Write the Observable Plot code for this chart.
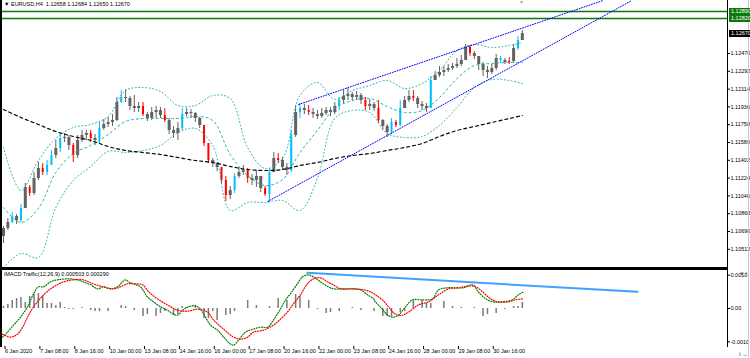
<!DOCTYPE html>
<html><head><meta charset="utf-8">
<script src="https://cdn.jsdelivr.net/npm/d3@7"></script>
<script src="https://cdn.jsdelivr.net/npm/@observablehq/plot@0.6"></script>
<style>
body{margin:0;background:#fff;}
#wrap{position:relative;width:750px;height:358px;overflow:hidden;background:#fff;font-family:"Liberation Sans",sans-serif;}
#wrap svg{position:absolute;left:0;}
.ln{position:absolute;background:#000;}
.tag{position:absolute;font-size:5.5px;line-height:7px;height:7px;color:#fff;padding-left:2px;width:21px;box-sizing:border-box;}
.txt{position:absolute;font-size:5.5px;line-height:7px;color:#000;white-space:pre;}
</style></head><body><div id="wrap"></div>
<script>
// ---------- data (EURUSD H4) ----------
const symbolTitle = "▼ EURUSD,H4  1.12658 1.12684 1.12650 1.12670";
const macdTitle = "iMACD Traffic(12,26,9) 0.000503 0.000290";
const firstOpen = 1.1064;
const closes = [1.1072,1.1078,1.1084,1.1080,1.1092,1.1113,1.1107,1.1122,1.1132,1.1128,
1.1135,1.1145,1.1152,1.1162,1.1163,1.1155,1.1145,1.1160,1.1165,1.1167,
1.1162,1.1160,1.1172,1.1176,1.1178,1.1180,1.1198,1.1203,1.1202,1.1194,
1.1192,1.1194,1.1186,1.1182,1.1188,1.1190,1.1185,1.1180,1.1170,1.1167,
1.1172,1.1186,1.1188,1.1187,1.1182,1.1175,1.1157,1.1140,1.1137,1.1133,
1.1120,1.1105,1.1110,1.1124,1.1128,1.1130,1.1122,1.1120,1.1124,1.1112,
1.1106,1.1128,1.1142,1.1140,1.1133,1.1130,1.1165,1.1188,1.1192,1.1190,
1.1188,1.1186,1.1184,1.1187,1.1190,1.1188,1.1194,1.1200,1.1204,1.1206,
1.1203,1.1205,1.1200,1.1194,1.1196,1.1192,1.1180,1.1174,1.1168,1.1178,
1.1175,1.1192,1.1200,1.1204,1.1202,1.1196,1.1194,1.1192,1.1220,1.1225,
1.1228,1.1230,1.1232,1.1234,1.1236,1.1240,1.1253,1.1247,1.1244,1.1236,
1.1230,1.1228,1.1232,1.1242,1.1240,1.1238,1.1239,1.1252,1.1260,1.1267];
const highs = [1.1074,1.1082,1.1088,1.1086,1.1096,1.1117,1.1115,1.1128,1.1138,1.1137,
1.1140,1.1150,1.1160,1.1167,1.1167,1.1165,1.1157,1.1165,1.1170,1.1170,
1.1170,1.1166,1.1178,1.1181,1.1183,1.1186,1.1203,1.1210,1.1211,1.1204,
1.1205,1.1198,1.1198,1.1188,1.1193,1.1194,1.1193,1.1192,1.1182,1.1174,
1.1178,1.1192,1.1192,1.1191,1.1188,1.1183,1.1175,1.1157,1.1142,1.1138,
1.1132,1.1124,1.1114,1.1127,1.1133,1.1135,1.1132,1.1126,1.1130,1.1124,
1.1114,1.1132,1.1148,1.1147,1.1143,1.1137,1.1170,1.1195,1.1197,1.1196,
1.1195,1.1192,1.1190,1.1192,1.1193,1.1193,1.1198,1.1203,1.1210,1.1212,
1.1208,1.1209,1.1207,1.1203,1.1201,1.1198,1.1200,1.1181,1.1176,1.1182,
1.1180,1.1200,1.1204,1.1210,1.1210,1.1204,1.1199,1.1197,1.1224,1.1229,
1.1234,1.1234,1.1236,1.1237,1.1242,1.1245,1.1256,1.1255,1.1249,1.1244,
1.1238,1.1234,1.1236,1.1246,1.1244,1.1242,1.1243,1.1256,1.1264,1.1270];
const lows = [1.1057,1.1070,1.1077,1.1076,1.1078,1.1100,1.1104,1.1105,1.1120,1.1125,
1.1125,1.1135,1.1142,1.1148,1.1158,1.1150,1.1138,1.1142,1.1158,1.1160,
1.1158,1.1155,1.1157,1.1170,1.1173,1.1174,1.1179,1.1197,1.1198,1.1190,
1.1188,1.1188,1.1184,1.1179,1.1180,1.1182,1.1182,1.1178,1.1166,1.1162,
1.1160,1.1170,1.1184,1.1182,1.1178,1.1172,1.1154,1.1137,1.1133,1.1129,
1.1116,1.1099,1.1101,1.1107,1.1122,1.1125,1.1117,1.1115,1.1113,1.1108,
1.1104,1.1098,1.1128,1.1137,1.1130,1.1125,1.1128,1.1163,1.1182,1.1186,
1.1185,1.1182,1.1181,1.1182,1.1185,1.1184,1.1186,1.1190,1.1197,1.1200,
1.1199,1.1200,1.1196,1.1190,1.1190,1.1189,1.1177,1.1170,1.1163,1.1166,
1.1173,1.1174,1.1194,1.1198,1.1199,1.1192,1.1190,1.1188,1.1192,1.1220,
1.1223,1.1224,1.1228,1.1230,1.1232,1.1234,1.1240,1.1244,1.1241,1.1230,
1.1224,1.1222,1.1226,1.1230,1.1237,1.1236,1.1236,1.1237,1.1250,1.1260];
// g = grey, b = blue (strong up), r = red (strong down)
const candleKinds = "ggbgbgrggrbbgbggrgggrgbggggbggggrggggrgggbggggrrggrrgbggrgggrbgrggbgbgrggggggbgggggrggrggbrbggrgggbggggggggrggggggbgrgbgg";

// indicator samples (every 4 bars)
const bandIdx = [0,4,8,12,16,20,24,28,32,36,40,44,48,52,56,60,64,68,72,76,80,84,88,92,96,100,104,108,112,116,119];
const bbUpper = [1.1153,1.1110,1.1140,1.1162,1.1173,1.1176,1.1184,1.1210,1.1213,1.1209,1.1195,1.1195,1.1205,1.1202,1.1153,1.1132,1.1142,1.1205,1.1218,1.1201,1.1210,1.1215,1.1220,1.1212,1.1217,1.1230,1.1250,1.1256,1.1253,1.1255,1.1258];
const bbMiddle = [1.1093,1.1078,1.1092,1.1128,1.1147,1.1155,1.1166,1.1179,1.1182,1.1182,1.1182,1.1184,1.1180,1.1146,1.1125,1.1115,1.1121,1.1148,1.1170,1.1192,1.1200,1.1202,1.1194,1.1188,1.1190,1.1203,1.1222,1.1235,1.1237,1.1238,1.1238];
const bbLower = [1.1033,1.1047,1.1043,1.1093,1.1120,1.1134,1.1149,1.1148,1.1150,1.1155,1.1168,1.1172,1.1155,1.1090,1.1098,1.1098,1.1100,1.1090,1.1122,1.1182,1.1190,1.1188,1.1167,1.1163,1.1164,1.1175,1.1193,1.1213,1.1221,1.1220,1.1217];
const slowMA = [1.1191,1.1183,1.1176,1.1169,1.1164,1.1160,1.1154,1.1150,1.1148,1.1146,1.1143,1.1140,1.1138,1.1134,1.1131,1.1130,1.1131,1.1135,1.1138,1.1142,1.1145,1.1147,1.1150,1.1153,1.1157,1.1164,1.1170,1.1174,1.1178,1.1182,1.1185];

// channel trendlines [barIndex, price]
const channelUpper = [[67.7, 1.1196], [137.5, 1.1300]];
const channelLower = [[60.6, 1.1099], [144.1, 1.1300]];
const levels = [1.1289, 1.1282];
const levelLabels = ["1.12890", "1.12820"];
const priceTicks = [1.12470,1.12292,1.12114,1.11936,1.11758,1.11580,1.11402,1.11224,1.11046,1.10868,1.10690,1.10512];

// MACD panel
const histogram = [0.00006,0.00012,0.00024,0.00030,0.00033,0.00018,0.00036,0.00042,0.00045,0.00036,
0.00015,0.00015,0.00009,0.00018,0.00003,-0.00003,-0.00003,0,0.00003,0,
-0.00006,-0.00009,-0.00009,0,-0.00009,0,0,0.00009,0.00006,0,
-0.00006,0,-0.00024,-0.00018,0,-0.00024,-0.00015,-0.00009,0,-0.00021,
-0.00018,0.00006,0.00003,0,0.00009,0,-0.00030,-0.00030,-0.00009,-0.00036,
0,-0.00021,-0.00018,-0.00009,0,0,0.00024,0,0.00009,0,
0,0.00006,0,0.00030,0,0.00024,0,0.00042,0.00036,0,
0.00024,0,-0.00003,0,-0.00015,-0.00012,0,-0.00009,0,0,
0.00003,0,-0.00006,0,0,-0.00009,0,-0.00024,-0.00024,-0.00024,
0,-0.00012,-0.00009,0,0.00024,0,0.00024,0.00015,0.00015,0,
0,0.00021,0,0.00006,0,0.00003,0,0,0.00003,0,
-0.00024,-0.00018,0,-0.00015,0,-0.00003,0,0.00006,0.00006,0.00018];
const macdIdx = [-0.2,0.9,2.3,3.9,5.5,6.9,8.0,9.2,10.8,12.4,14.7,17.0,18.3,20.0,21.6,22.9,24.5,26.1,28.0,28.7,29.8,31.4,33.0,34.4,36.0,37.6,39.0,39.9,41.1,42.4,44.0,45.2,46.3,47.5,49.1,50.5,52.1,52.8,53.9,55.5,57.3,58.9,60.6,61.9,63.5,64.7,65.8,67.4,68.6,69.7,71.1,72.7,74.5,75.7,78.0,80.3,81.9,83.5,84.9,85.3,86.9,88.1,89.4,90.6,92.2,93.8,96.1,98.4,99.8,101.8,103.7,105.5,107.6,108.9,110.6,112.2,114.4,116.7,118.1,119.3];
const macdMain = [-0.00086,-0.00071,-0.00050,-0.00026,0.00005,0.00044,0.00065,0.00065,0.00080,0.00086,0.00089,0.00086,0.00080,0.00071,0.00059,0.00065,0.00059,0.00065,0.00086,0.00080,0.00074,0.00065,0.00035,0.00020,0.00005,-0.00005,-0.00017,-0.00020,-0.00005,0.00005,0.00008,-0.00002,-0.00026,-0.00050,-0.00065,-0.00086,-0.00107,-0.00110,-0.00095,-0.00071,-0.00062,-0.00056,-0.00056,-0.00035,-0.00002,0.00026,0.00044,0.00074,0.00095,0.00101,0.00095,0.00080,0.00065,0.00059,0.00059,0.00059,0.00056,0.00041,0.00029,0.00020,-0.00002,-0.00020,-0.00026,-0.00020,0.00005,0.00026,0.00026,0.00029,0.00056,0.00062,0.00062,0.00062,0.00071,0.00050,0.00029,0.00020,0.00020,0.00026,0.00041,0.00050];
const signalIdx = [-0.2,1.6,3.2,4.4,5.5,6.9,9.2,11.5,13.8,16.1,18.3,20.6,22.9,25.2,26.8,28.4,29.8,31.9,33.3,35.3,37.6,39.9,42.2,44.5,46.8,48.2,50.5,52.8,54.4,56.0,57.3,59.6,61.9,63.5,65.1,66.5,68.1,69.7,71.1,72.7,74.3,75.7,77.3,80.3,82.6,84.2,85.3,86.9,88.3,89.9,91.5,92.9,95.2,97.5,99.8,102.1,104.4,106.7,108.3,109.9,111.7,113.5,115.8,117.4,119.0];
const macdSignal = [-0.00077,-0.00086,-0.00077,-0.00056,-0.00026,0.00005,0.00041,0.00065,0.00080,0.00086,0.00086,0.00074,0.00065,0.00059,0.00065,0.00074,0.00074,0.00071,0.00050,0.00029,0.00011,-0.00005,-0.00008,-0.00002,-0.00011,-0.00035,-0.00062,-0.00086,-0.00092,-0.00086,-0.00071,-0.00065,-0.00050,-0.00032,-0.00011,0.00014,0.00041,0.00074,0.00089,0.00092,0.00080,0.00071,0.00059,0.00059,0.00056,0.00050,0.00041,0.00026,0.00005,-0.00017,-0.00020,-0.00011,0.00011,0.00020,0.00041,0.00059,0.00062,0.00068,0.00065,0.00050,0.00029,0.00020,0.00020,0.00026,0.00029];
const macdTrend = [[69.7, 0.00107], [145.4, 0.00050]];
const macdTicks = [0.0010, 0, -0.0010];
const timeTickIdx = [0,8,16,24,32,40,48,56,64,72,80,88,96,104,112];
const timeLabels = ["6 Jan 2020","7 Jan 08:00","8 Jan 16:00","10 Jan 00:00","13 Jan 08:00","14 Jan 16:00","16 Jan 00:00","17 Jan 08:00","20 Jan 16:00","22 Jan 00:00","23 Jan 08:00","24 Jan 16:00","28 Jan 00:00","29 Jan 08:00","30 Jan 16:00"];

// ---------- build ----------
const kindColor = {g: "#626262", b: "#00bfff", r: "#ff0000"};
const candles = closes.map((c, i) => {
  const o = i === 0 ? firstOpen : closes[i - 1];
  return {i, o, c, h: Math.max(highs[i], o, c), l: Math.min(lows[i], o, c), col: kindColor[candleKinds[i]], w: candleKinds[i] === "g" ? 3 : 2};
});
const bands = bandIdx.map((i, k) => ({i, up: bbUpper[k], mid: bbMiddle[k], lo: bbLower[k], ma: slowMA[k]}));
const hist = histogram.map((v, i) => ({i, v}));
const mainLine = macdIdx.map((i, k) => ({i, v: macdMain[k]}));
const sigLine = signalIdx.map((i, k) => ({i, v: macdSignal[k]}));
const xDomain = [-0.69, 166.06];
const teal = "#20b2aa";
const baseStyle = {fontSize: "5.5px", fontFamily: "Liberation Sans, sans-serif", background: "transparent", overflow: "visible", color: "#000"};

const main = Plot.plot({
  width: 750, height: 268,
  marginTop: 0, marginBottom: 0, marginLeft: 0, marginRight: 23,
  x: {domain: xDomain, axis: null},
  y: {domain: [1.1032, 1.1300]},
  color: {type: "identity"},
  style: baseStyle,
  marks: [
    Plot.axisY({anchor: "right", ticks: priceTicks, tickFormat: d => d.toFixed(5), tickSize: 2, tickPadding: 1, stroke: "#000"}),
    Plot.ruleY(levels, {stroke: "#0a7a0a", strokeWidth: 1.5}),
    Plot.ruleX(candles, {x: "i", y1: "l", y2: "h", stroke: "col", strokeWidth: 1}),
    Plot.ruleX(candles, {x: "i", y1: "o", y2: d => d.o === d.c ? d.c + 0.00006 : d.c, stroke: "col", strokeWidth: "w"}),
    Plot.line(bands, {x: "i", y: "up", stroke: teal, strokeWidth: 1, strokeDasharray: "1,2.5", curve: "catmull-rom"}),
    Plot.line(bands, {x: "i", y: "mid", stroke: teal, strokeWidth: 1, strokeDasharray: "2,3", curve: "catmull-rom"}),
    Plot.line(bands, {x: "i", y: "lo", stroke: teal, strokeWidth: 1, strokeDasharray: "1,2.5", curve: "catmull-rom"}),
    Plot.line(bands, {x: "i", y: "ma", stroke: "#000", strokeWidth: 1.2, strokeDasharray: "3,3", curve: "catmull-rom"}),
    Plot.line(channelUpper, {x: d => d[0], y: d => d[1], stroke: "#0000ff", strokeWidth: 1, strokeDasharray: "1,1.6", clip: true}),
    Plot.line(channelLower, {x: d => d[0], y: d => d[1], stroke: "#0000ff", strokeWidth: 1, strokeDasharray: "1,1.6", clip: true})
  ]
});

const macd = Plot.plot({
  width: 750, height: 90,
  marginTop: 2, marginBottom: 12, marginLeft: 0, marginRight: 23,
  x: {domain: xDomain},
  y: {domain: [-0.00114, 0.00114]},
  color: {type: "identity"},
  style: baseStyle,
  marks: [
    Plot.axisX({ticks: timeTickIdx, tickFormat: d => timeLabels[timeTickIdx.indexOf(d)], tickSize: 3, tickPadding: 0, textAnchor: "start", dx: 1.5, stroke: "#000"}),
    Plot.axisY({anchor: "right", ticks: macdTicks, tickFormat: d => d === 0 ? "0.00" : d.toFixed(4), tickSize: 2, tickPadding: 1}),
    Plot.ruleX(hist, {x: "i", y1: 0, y2: "v", stroke: "#7a7a7a", strokeWidth: 1.5}),
    Plot.line(mainLine, {x: "i", y: "v", stroke: "#008000", strokeWidth: 1.2, strokeDasharray: "1,1.6", curve: "catmull-rom"}),
    Plot.line(sigLine, {x: "i", y: "v", stroke: "#ff0000", strokeWidth: 1.2, strokeDasharray: "1,1.6", curve: "catmull-rom"}),
    Plot.line(macdTrend, {x: d => d[0], y: d => d[1], stroke: "#1e90ff", strokeWidth: 2, strokeOpacity: 0.85})
  ]
});

const wrap = document.getElementById("wrap");
main.style.top = "0px";
macd.style.top = "268px";
wrap.appendChild(main);
wrap.appendChild(macd);

function addDiv(cls, css, text) {
  const d = document.createElement("div");
  d.className = cls;
  Object.assign(d.style, css);
  if (text != null) d.textContent = text;
  wrap.appendChild(d);
  return d;
}
// frame lines
addDiv("ln", {left: "0px", top: "0px", width: "2px", height: "347px"});
addDiv("ln", {left: "727px", top: "0px", width: "1px", height: "347px"});
addDiv("ln", {left: "0px", top: "267px", width: "728px", height: "3px"});
addDiv("ln", {left: "748px", top: "0px", width: "1px", height: "358px", background: "#c8c8c8"});

// price tags using the plot's y scale
const ys = main.scale("y");
levels.forEach((v, k) => {
  addDiv("tag", {left: "729px", top: (ys.apply(v) - 3.5) + "px", background: "#0a7a0a"}, levelLabels[k]);
});
const last = closes[closes.length - 1];
addDiv("tag", {left: "729px", top: (ys.apply(last) - 3.5) + "px", background: "#000"}, last.toFixed(5));

// titles
addDiv("txt", {left: "4px", top: "1px"}, symbolTitle);
addDiv("txt", {left: "4px", top: "271px"}, macdTitle);
addDiv("txt", {left: "519px", top: "0px", color: "#a0a0a0", fontSize: "5px", lineHeight: "5px"}, "▼");
</script></body></html>
